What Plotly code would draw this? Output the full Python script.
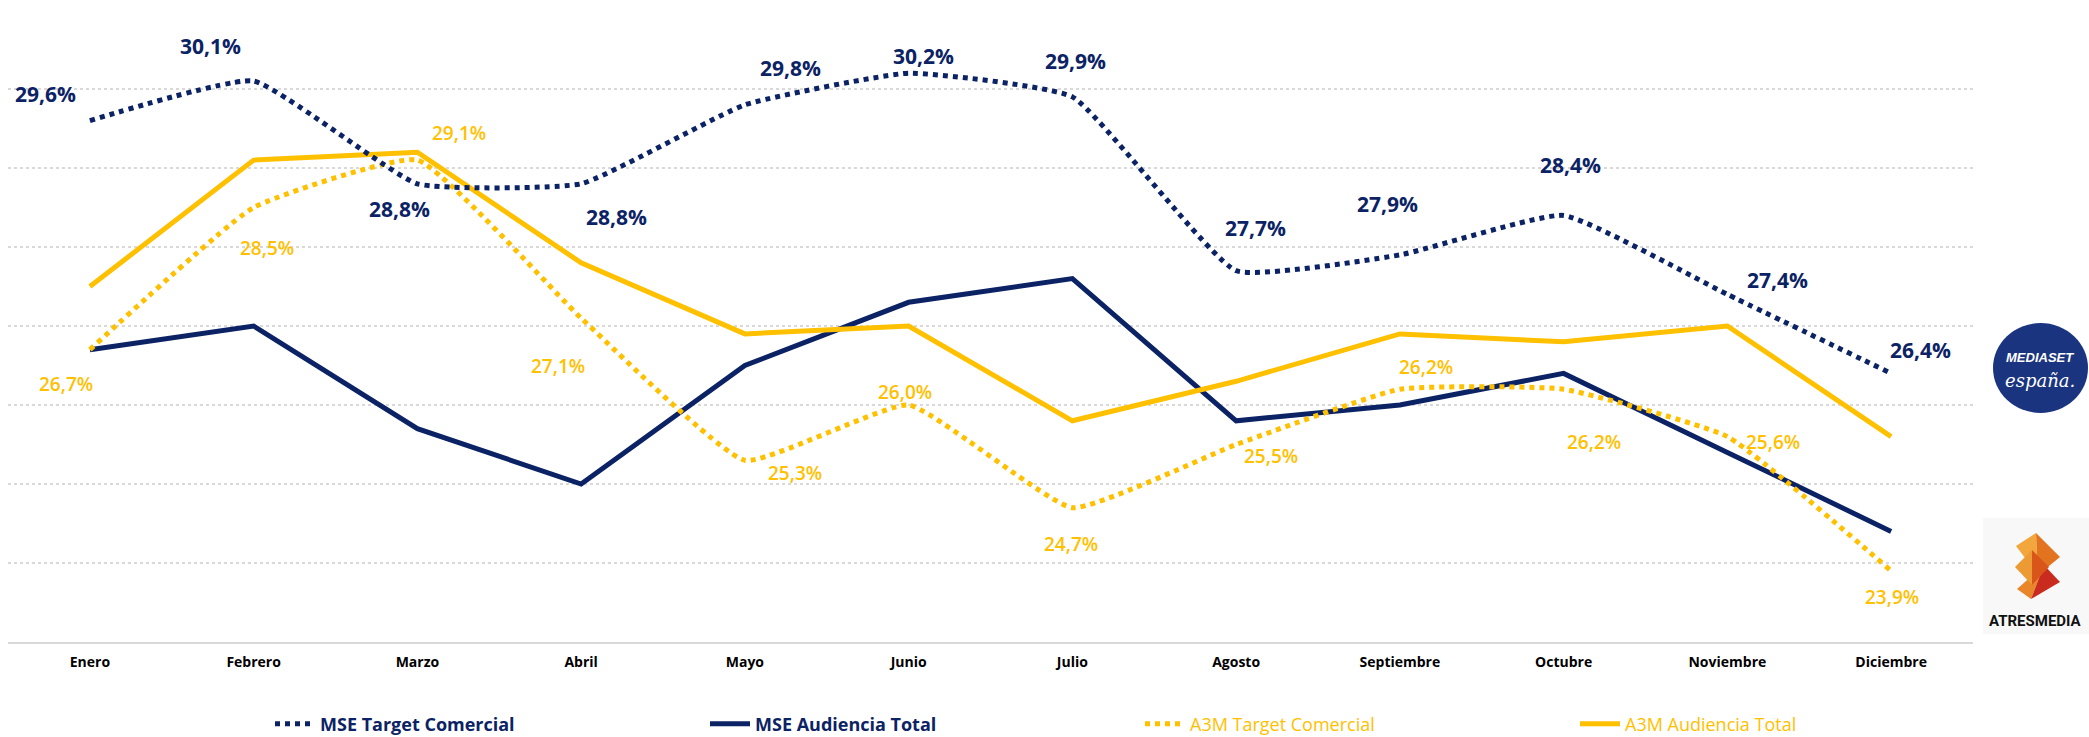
import plotly.graph_objects as go

# ---------------- data ----------------
months = ["Enero", "Febrero", "Marzo", "Abril", "Mayo", "Junio", "Julio",
          "Agosto", "Septiembre", "Octubre", "Noviembre", "Diciembre"]
mse_target = [29.6, 30.1, 28.8, 28.8, 29.8, 30.2, 29.9, 27.7, 27.9, 28.4, 27.4, 26.4]
mse_total = [26.7, 27.0, 25.7, 25.0, 26.5, 27.3, 27.6, 25.8, 26.0, 26.4, 25.4, 24.4]
a3m_target = [26.7, 28.5, 29.1, 27.1, 25.3, 26.0, 24.7, 25.5, 26.2, 26.2, 25.6, 23.9]
a3m_total = [27.5, 29.1, 29.2, 27.8, 26.9, 27.0, 25.8, 26.3, 26.9, 26.8, 27.0, 25.6]

# label offsets (px) for the data labels (dx, dy screen-down)
mse_lbl_off = [(-44, -27), (-43, -35), (-18, 25), (35, 33), (46, -37), (15, -17),
               (3, -36), (19, -43), (-12, -51), (7, -50), (50, -14), (29, -23)]
a3m_lbl_off = [(-24, 34), (13, 40), (42, -27), (-23, 48), (50, 13), (-4, -13),
               (-1, 36), (35, 11), (26, -22), (30, 53), (46, 5), (1, 26)]

NAVY = "#0B2265"
GOLD = "#FFC000"
FONT = "Open Sans"

W, H = 2089, 737
ML, MR, MT, MB = 8, 116, 10, 95
PW, PH = W - ML - MR, H - MT - MB


def px(x):
    return (x - ML) / PW


def py(y):
    return (H - MB - y) / PH


def fmt(v):
    return f"{v:.1f}".replace(".", ",") + "%"


fig = go.Figure()

fig.add_trace(go.Scatter(
    x=months, y=mse_total, mode="lines", legendrank=2,
    name=f"<span style='color:{NAVY}'><b>MSE Audiencia Total</b></span>",
    line=dict(color=NAVY, width=5), hoverinfo="skip"))
fig.add_trace(go.Scatter(
    x=months, y=a3m_total, mode="lines", legendrank=4,
    name=f"<span style='color:{GOLD}'>A3M Audiencia Total</span>",
    line=dict(color=GOLD, width=5), hoverinfo="skip"))
fig.add_trace(go.Scatter(
    x=months, y=a3m_target, mode="lines", legendrank=3,
    name=f"<span style='color:{GOLD}'>A3M Target Comercial</span>",
    line=dict(color=GOLD, width=5, dash="5px,5px", shape="spline", smoothing=0.4),
    hoverinfo="skip"))
fig.add_trace(go.Scatter(
    x=months, y=mse_target, mode="lines", legendrank=1,
    name=f"<span style='color:{NAVY}'><b>MSE Target Comercial</b></span>",
    line=dict(color=NAVY, width=5, dash="5px,5px", shape="spline", smoothing=0.4),
    hoverinfo="skip"))

annotations = []
for m, v, (dx, dy) in zip(months, mse_target, mse_lbl_off):
    annotations.append(dict(x=m, y=v, xref="x", yref="y", text=fmt(v), showarrow=False,
                            xshift=dx, yshift=-dy, xanchor="center", yanchor="middle",
                            font=dict(family=FONT, size=21, color=NAVY, weight="bold")))
for m, v, (dx, dy) in zip(months, a3m_target, a3m_lbl_off):
    annotations.append(dict(x=m, y=v, xref="x", yref="y", text=fmt(v), showarrow=False,
                            xshift=dx, yshift=-dy, xanchor="center", yanchor="middle",
                            font=dict(family=FONT, size=19, color=GOLD, weight=600)))

# ---- logos (decorative) ----
shapes = []
# Mediaset España
shapes.append(dict(type="circle", xref="paper", yref="paper",
                   x0=px(1993), x1=px(2088), y0=py(413), y1=py(323),
                   fillcolor="#1B3480", line=dict(width=0), layer="above"))
annotations.append(dict(x=px(2040), y=py(357), xref="paper", yref="paper", showarrow=False,
                        xanchor="center", yanchor="middle",
                        text="<b><i>MEDIASET</i></b>",
                        font=dict(family="Liberation Sans", size=13, color="white")))
annotations.append(dict(x=px(2040), y=py(380), xref="paper", yref="paper", showarrow=False,
                        xanchor="center", yanchor="middle",
                        text="<i>españa.</i>",
                        font=dict(family="DejaVu Serif", size=18, color="white")))

# Atresmedia
shapes.append(dict(type="rect", xref="paper", yref="paper",
                   x0=px(1983), x1=px(2089), y0=py(634), y1=py(518),
                   fillcolor="#F8F8F8", line=dict(width=0), layer="below"))


def poly(pts, color):
    path = "M " + " L ".join(f"{px(a):.5f},{py(b):.5f}" for a, b in pts) + " Z"
    return dict(type="path", xref="paper", yref="paper", path=path,
                fillcolor=color, line=dict(width=0), layer="above")


diamonds = [
    ((2036, 533), (2060, 557), (2038, 575), (2016, 546), "#F3A63C", "#E2741F"),
    ((2044, 565), (2060, 582), (2031, 599), (2017, 589), "#E9862A", "#C92B1E"),
    ((2032, 550), (2049, 567), (2032, 585), (2015, 567), "#EC9A33", "#D9561B"),
]
for top, right, bot, left, c1, c2 in diamonds:
    shapes.append(poly([top, bot, left], c1))
    shapes.append(poly([top, right, bot], c2))

annotations.append(dict(x=px(2036), y=py(621), xref="paper", yref="paper", showarrow=False,
                        xanchor="center", yanchor="middle",
                        text="<b>ATRESMEDIA</b>",
                        font=dict(family="Liberation Sans Narrow, Roboto", size=15, color="#111111")))

fig.update_layout(
    width=W, height=H,
    margin=dict(l=ML, r=MR, t=MT, b=MB, autoexpand=False),
    paper_bgcolor="white", plot_bgcolor="white",
    showlegend=True,
    legend=dict(orientation="h", x=px(270), xanchor="left", y=py(724), yanchor="middle",
                font=dict(family=FONT, size=18), entrywidth=380, itemwidth=40,
                bgcolor="rgba(0,0,0,0)"),
    annotations=annotations,
    shapes=shapes,
    xaxis=dict(range=[-0.5, 11.5], showgrid=False, showline=True, linecolor="#D9D9D9",
               linewidth=2, ticks="", ticklabelstandoff=6, fixedrange=True,
               tickfont=dict(family=FONT, size=14, color="#000000", weight="bold")),
    yaxis=dict(range=[23, 31], tick0=23, dtick=1, showgrid=True, gridcolor="#D9D9D9",
               griddash="dot", gridwidth=1.5, showticklabels=False, zeroline=False,
               showline=False, fixedrange=True),
)

fig.write_html("out.html", post_script="document.body.style.margin='0';",
               config={"displayModeBar": False})
